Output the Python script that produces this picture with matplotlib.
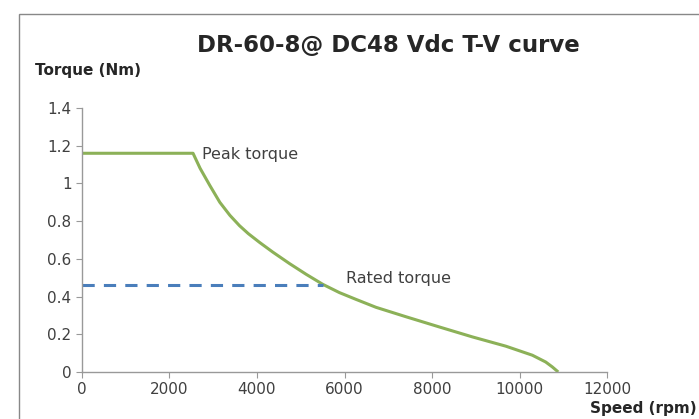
import matplotlib
matplotlib.use('Agg')
import matplotlib.pyplot as plt
from matplotlib.patches import Rectangle
from matplotlib.ticker import FuncFormatter

# speed (rpm) vs torque (Nm)
speed = [0, 2538, 2700, 2920, 3150, 3380, 3600, 3800, 4060, 4360, 4743, 5124,
         5503, 5884, 6264, 6720, 7405, 8165, 8924, 9686, 10293, 10598, 10749,
         10885]
torque = [1.16, 1.16, 1.08, 0.99, 0.900, 0.831, 0.776, 0.734, 0.687, 0.636,
          0.575, 0.518, 0.465, 0.421, 0.385, 0.343, 0.293, 0.239, 0.186,
          0.137, 0.089, 0.053, 0.027, 0]
rated_speed = [0, 5500]
rated_torque = [0.46, 0.46]

plt.rcParams["font.family"] = "DejaVu Sans"
fig = plt.figure(figsize=(6.99, 4.19), dpi=100)
ax = fig.add_axes([0.1173, 0.1122, 0.7511, 0.63])

# outer chart frame (runs off the right/bottom edge)
fig.patches.append(Rectangle((19 / 699, -0.1), 1.2, 1.1 - 14 / 419,
                             transform=fig.transFigure, fill=False,
                             edgecolor='#888888', linewidth=1))

ax.plot(speed, torque, color='#8CB158', linewidth=2.2,
        solid_capstyle='butt', solid_joinstyle='round')
ax.plot(rated_speed, rated_torque, color='#4A7EBB', linewidth=2.2,
        linestyle=(0, (4, 3)))

ax.set_xlim(0, 12000)
ax.set_ylim(0, 1.4)
ax.set_xticks(range(0, 12001, 2000))
ax.set_yticks([0, 0.2, 0.4, 0.6, 0.8, 1, 1.2, 1.4])
ax.yaxis.set_major_formatter(FuncFormatter(lambda v, p: '{:g}'.format(round(v, 1))))

for s in ['top', 'right']:
    ax.spines[s].set_visible(False)
for s in ['left', 'bottom']:
    ax.spines[s].set_color('#999999')
    ax.spines[s].set_linewidth(1)
ax.tick_params(colors='#999999', labelcolor='#404040', labelsize=11,
               length=4, direction='out')

ax.text(2737, 1.152, 'Peak torque', fontsize=11.5, color='#404040', va='center')
ax.text(6043, 0.498, 'Rated torque', fontsize=11.5, color='#404040', va='center')

fig.text(388 / 699, 1 - 45 / 419, 'DR-60-8@ DC48 Vdc T-V curve', fontsize=16.5,
         fontweight='bold', color='#262626', ha='center', va='center')
fig.text(35 / 699, 1 - 70 / 419, 'Torque (Nm)', fontsize=11,
         fontweight='bold', color='#262626', ha='left', va='center')
fig.text(590 / 699, 1 - 408 / 419, 'Speed (rpm)', fontsize=11,
         fontweight='bold', color='#262626', ha='left', va='center')

plt.savefig('out.png', dpi=100)
